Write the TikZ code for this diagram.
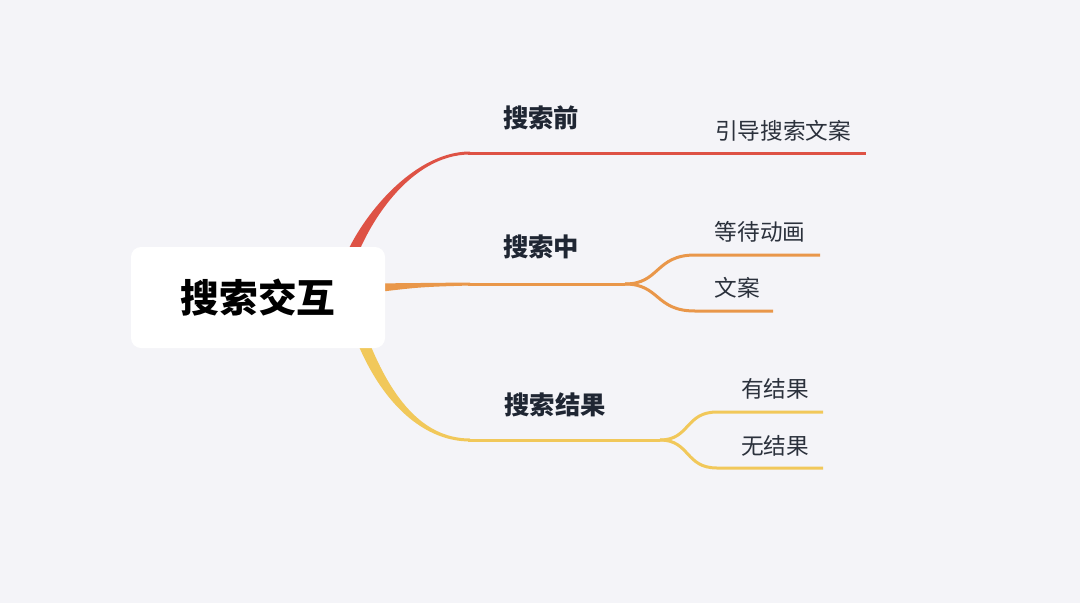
\documentclass[tikz,border=0pt]{standalone}
\usepackage{fontspec}
\newfontfamily\cjk{Noto Sans CJK SC}
\usetikzlibrary{positioning}
\definecolor{bgcol}{HTML}{F4F4F8}
\definecolor{brred}{HTML}{DE5245}
\definecolor{brorange}{HTML}{E9974A}
\definecolor{bryellow}{HTML}{F1C85A}
\definecolor{headcol}{HTML}{1F2633}
\definecolor{leafcol}{HTML}{2B313C}

\begin{document}
\begin{tikzpicture}[x=0.75pt, y=-0.75pt,
    rootbox/.style={fill=white, rounded corners=7.5pt, minimum width=190.5pt,
      minimum height=75.75pt, inner sep=0pt, font=\cjk\bfseries\fontsize{29}{32}\selectfont},
    headlabel/.style={inner sep=0pt, text=headcol, font=\cjk\bfseries\fontsize{19}{22}\selectfont},
    leaflabel/.style={inner sep=0pt, text=leafcol, font=\cjk\fontsize{17}{20}\selectfont},
    branch/.style={line width=2.25pt}]
  % background and page size
  \fill[bgcol] (0,0) rectangle (1080,603);
  \useasboundingbox (0,0) rectangle (1080,603);

  % branch points
  \coordinate (pre) at (468,153);
  \coordinate (preend) at (866,153);
  \coordinate (mid) at (468,284);
  \coordinate (midsplit) at (625,284);
  \coordinate (waitend) at (820,255);
  \coordinate (textend) at (773,311);
  \coordinate (res) at (468,440);
  \coordinate (ressplit) at (660,440);
  \coordinate (hasend) at (823,412);
  \coordinate (noneend) at (823,468);

  % tapered stems
  \fill[brred] (340,270) .. controls (354,225) and (410,151.5) .. (470,151.5)
    -- (470,154.5) .. controls (410,154.5) and (366,225) .. (352,270) -- cycle;
  \fill[brorange] (370,283.5) .. controls (420,282.5) .. (470,282.5)
    -- (470,285.5) .. controls (420,287) .. (370,293) -- cycle;
  \fill[bryellow] (349,320) .. controls (374,397) and (420,441.5) .. (470,441.5)
    -- (470,438.5) .. controls (420,438.5) and (386,393) .. (361,320) -- cycle;

  % red branch
  \draw[branch, brred] (pre) -- (preend);
  % orange branch
  \draw[branch, brorange] (mid) -- (midsplit);
  \draw[branch, brorange] (midsplit) .. controls +(35,0) and +(-40,0) .. (695,255) -- (waitend);
  \draw[branch, brorange] (midsplit) .. controls +(35,0) and +(-40,0) .. (695,311) -- (textend);
  % yellow branch
  \draw[branch, bryellow] (res) -- (ressplit);
  \draw[branch, bryellow] (ressplit) .. controls +(30,0) and +(-32,0) .. (717,412) -- (hasend);
  \draw[branch, bryellow] (ressplit) .. controls +(30,0) and +(-32,0) .. (717,468) -- (noneend);

  % nodes
  \node[rootbox] (root) at (258,297.5) {搜索交互};
  \node[headlabel] (before) at (541,118) {搜索前};
  \node[headlabel] (during) at (541,247) {搜索中};
  \node[headlabel] (result) at (555,405) {搜索结果};
  \node[leaflabel] (guide) at (783,131) {引导搜索文案};
  \node[leaflabel] (wait) at (760,232) {等待动画};
  \node[leaflabel] (copy) at (737,288) {文案};
  \node[leaflabel] (has) at (775,389) {有结果};
  \node[leaflabel] (none) at (775,446) {无结果};
\end{tikzpicture}
\end{document}
